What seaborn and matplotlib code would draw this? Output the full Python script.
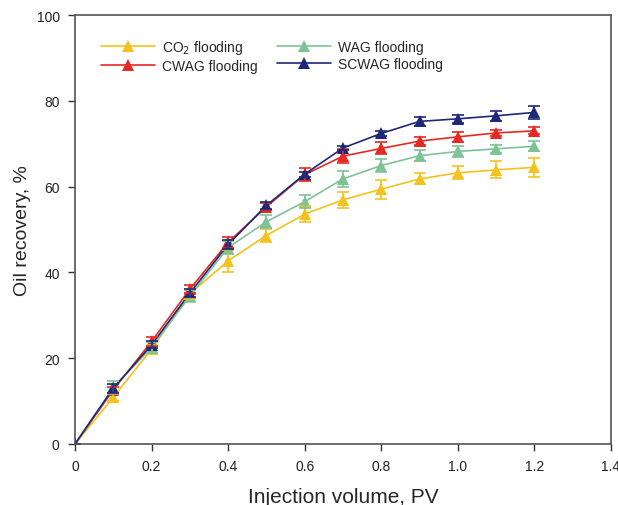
import numpy as np
import pandas as pd
import matplotlib
matplotlib.use("Agg")
import matplotlib.pyplot as plt
import seaborn as sns

pv = [0, 0.1, 0.2, 0.3, 0.4, 0.5, 0.6, 0.7, 0.8, 0.9, 1.0, 1.1, 1.2]
co2 = [0, 10.9, 22.1, 35.0, 42.7, 48.6, 53.6, 56.9, 59.4, 61.8, 63.2, 63.9, 64.5]
co2_err = [0, 0.8, 1.0, 1.2, 2.5, 1.5, 1.8, 1.8, 2.2, 1.3, 1.5, 2.0, 2.2]
cwag = [0, 12.6, 23.9, 36.1, 47.0, 55.3, 62.8, 67.1, 68.9, 70.6, 71.6, 72.5, 73.0]
cwag_err = [0, 0.8, 1.0, 1.0, 1.2, 0.8, 1.5, 1.6, 1.4, 1.0, 1.2, 0.8, 0.8]
wag = [0, 13.2, 22.5, 34.5, 45.8, 51.8, 56.5, 61.8, 64.9, 67.2, 68.2, 68.8, 69.4]
wag_err = [0, 1.5, 1.2, 1.5, 1.5, 1.5, 1.5, 1.8, 1.6, 1.3, 1.2, 1.0, 1.2]
scwag = [0, 13.0, 23.1, 35.2, 46.5, 55.6, 62.9, 69.0, 72.4, 75.2, 75.8, 76.5, 77.3]
scwag_err = [0, 1.0, 0.8, 1.0, 1.0, 0.8, 0.6, 0.5, 0.6, 1.0, 1.0, 1.1, 1.6]

series = ["CO$_2$ flooding", "CWAG flooding", "WAG flooding", "SCWAG flooding"]
values = [co2, cwag, wag, scwag]
errors = [co2_err, cwag_err, wag_err, scwag_err]
colors = ["#F4C21E", "#E42A22", "#7DC396", "#1E2878"]

xticks = [0, 0.2, 0.4, 0.6, 0.8, 1.0, 1.2, 1.4]
xticklabels = ["0", "0.2", "0.4", "0.6", "0.8", "1.0", "1.2", "1.4"]
yticks = [0, 20, 40, 60, 80, 100]

sns.set_theme(style="white")
plt.rcParams['font.family'] = ['Liberation Sans', 'DejaVu Sans']

df = pd.concat([pd.DataFrame({"pv": pv, "rec": v, "err": e, "series": s})
                for s, v, e in zip(series, values, errors)], ignore_index=True)

fig = plt.figure(figsize=(6.18, 5.06), dpi=100)
ax = fig.add_axes([75/618, 61/506, 536/618, 429/506])

palette = dict(zip(series, colors))
sns.lineplot(data=df, x="pv", y="rec", hue="series", palette=palette,
             marker="^", markersize=8, markeredgewidth=0, linewidth=1.2,
             hue_order=series, ax=ax, errorbar=None, legend=True)
for s, c in zip(series, colors):
    d = df[df.series == s]
    ax.errorbar(d.pv, d.rec, yerr=d.err, fmt="none", ecolor=c,
                elinewidth=1.2, capsize=4, capthick=1.2)

ax.set_xlim(0, 1.4)
ax.set_ylim(0, 100)
ax.set_xticks(xticks)
ax.set_xticklabels(xticklabels)
ax.set_yticks(yticks)
ax.tick_params(axis="both", direction="out", length=5, width=1, color="#333333",
               labelsize=10, labelcolor="#222222", bottom=True, left=True, pad=6)
for sp in ax.spines.values():
    sp.set_color("#555555")
    sp.set_linewidth(1.2)
ax.set_xlabel("Injection volume, PV", fontsize=15, labelpad=10)
ax.set_ylabel("Oil recovery, %", fontsize=14, labelpad=4)

handles, labels = ax.get_legend_handles_labels()
ax.legend(handles, labels, ncol=2, frameon=False, loc="upper left",
          bbox_to_anchor=(0.025, 0.975), fontsize=10, handlelength=3.9,
          columnspacing=1.4, labelspacing=0.2, handletextpad=0.5)

fig.savefig("out.png", dpi=100)
